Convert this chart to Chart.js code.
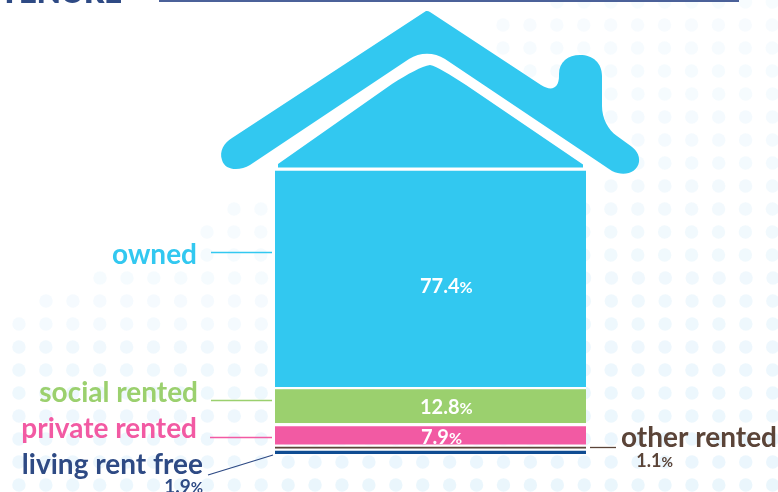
<!DOCTYPE html>
<html>
<head>
<meta charset="utf-8">
<title>Tenure</title>
<script src="https://cdn.jsdelivr.net/npm/chart.js@4"></script>
<style>
  html, body { margin: 0; padding: 0; background: #fff; overflow: hidden; }
  #wrap { position: relative; width: 778px; height: 492px; }
</style>
</head>
<body>
<div id="wrap"><canvas id="myChart" width="778" height="492"></canvas></div>
<script>
'use strict';

// bottom of the stack first
const categories = ['living rent free', 'other rented', 'private rented', 'social rented', 'owned'];
const values = [1.9, 1.1, 7.9, 12.8, 77.4];
const colors = ['#0f4c92', '#5b4438', '#f25aa3', '#9bd06e', '#32c8f0'];
const textColors = ['#2e4a84', '#5b4438', '#f25aa3', '#9bd06e', '#32c8f0'];

const FONT = 'Lato, sans-serif';

// where the names, leaders and numbers sit around the house
const nameSpots = [
  { x: 203, y: 474, line: [208, 475, 273, 455] },
  { x: 777, y: 447, line: [590, 447.5, 616, 447.5] },
  { x: 197, y: 438, line: [210, 437.5, 272, 437.5] },
  { x: 198, y: 402, line: [211, 400.5, 272, 400.5] },
  { x: 197, y: 264, line: [211, 252.5, 272, 252.5] }
];
const valueSpots = [
  { x: 203, y: 493, size: 19, align: 'right', inside: false },
  { x: 673, y: 467, size: 18, align: 'right', inside: false },
  { x: 421, y: 444, size: 20, align: 'left', inside: true },
  { x: 420, y: 414, size: 20, align: 'left', inside: true },
  { x: 420, y: 293, size: 20, align: 'left', inside: true }
];
// bar gaps, white edge of each segment [top, bottom]
const gaps = [[2, 0], [1.3, 0], [3, 1], [2.4, 0], [2.8, 0]];

// first dot of each row of the background pattern
const dotRows = [557, 503, 503, 530, 611, 611, 611, 611, 611, 234, 207, 207, 100, 46, 19, -8, -8, -8, -8, -8, -8, -8];

const backdrop = {
  id: 'backdrop',
  beforeDraw(chart) {
    const ctx = chart.ctx;
    ctx.save();
    ctx.fillStyle = '#e6f4fc';
    dotRows.forEach((start, i) => {
      const y = 2 + 23 * i;
      for (let x = start; x < 790; x += 26.92) {
        // pattern fades out to the upper left
        const fade = x < 275 ? (y < 340 ? 0.65 : 0.9) : 1;
        ctx.globalAlpha = (0.3 + 0.55 * y / 492) * fade;
        ctx.beginPath();
        ctx.arc(x, y, 6.7, 0, Math.PI * 2);
        ctx.fill();
      }
    });
    ctx.restore();

    // heading cut off by the top edge, and its rule
    ctx.save();
    ctx.fillStyle = '#2e4a84';
    ctx.font = '800 31px ' + FONT;
    ctx.textBaseline = 'alphabetic';
    ctx.fillText('TENURE', 0, 3);
    ctx.fillStyle = '#4b6199';
    ctx.fillRect(159, 0, 580, 2);
    ctx.restore();
  }
};

const roof = {
  id: 'roof',
  afterDatasetsDraw(chart) {
    const ctx = chart.ctx;
    ctx.save();
    ctx.fillStyle = colors[4];

    ctx.beginPath();
    ctx.moveTo(426, 11);
    ctx.quadraticCurveTo(428, 10.5, 430, 12);
    ctx.lineTo(541, 85);
    ctx.bezierCurveTo(552, 92, 559, 88, 559, 76);
    ctx.lineTo(559, 74);
    ctx.bezierCurveTo(559, 62, 568, 55, 580, 55);
    ctx.bezierCurveTo(593, 55, 602, 63, 602, 76);
    ctx.lineTo(602, 106);
    ctx.bezierCurveTo(602, 118, 608, 130, 617, 136);
    ctx.lineTo(628, 144);
    ctx.bezierCurveTo(636, 149, 640, 155, 639, 162);
    ctx.bezierCurveTo(637, 173, 624, 177, 612, 171);
    ctx.lineTo(445, 59);
    ctx.bezierCurveTo(434, 52, 420, 52, 409, 59);
    ctx.lineTo(250, 165);
    ctx.bezierCurveTo(240, 171, 225, 171, 222, 160);
    ctx.bezierCurveTo(219, 151, 224, 143, 232, 138);
    ctx.closePath();
    ctx.fill();

    ctx.beginPath();
    ctx.moveTo(278, 164);
    ctx.lineTo(278, 167.5);
    ctx.lineTo(583, 167.5);
    ctx.lineTo(583, 164.5);
    ctx.lineTo(466, 85);
    ctx.bezierCurveTo(450, 75, 437, 66, 430, 65);
    ctx.bezierCurveTo(422, 66, 408, 74, 392, 84);
    ctx.closePath();
    ctx.fill();
    ctx.restore();
  }
};

const labels = {
  id: 'labels',
  afterDraw(chart) {
    const ctx = chart.ctx;
    ctx.save();
    ctx.textBaseline = 'alphabetic';
    categories.forEach((name, i) => {
      const spot = nameSpots[i];
      const l = spot.line;
      ctx.strokeStyle = textColors[i];
      ctx.lineWidth = 1.3;
      ctx.beginPath();
      ctx.moveTo(l[0], l[1]);
      ctx.lineTo(l[2], l[3]);
      ctx.stroke();

      ctx.fillStyle = textColors[i];
      ctx.font = '700 28px ' + FONT;
      ctx.textAlign = 'right';
      ctx.fillText(name, spot.x, spot.y);

      // number and a smaller % sign
      const v = valueSpots[i];
      const num = values[i].toFixed(1);
      ctx.fillStyle = v.inside ? '#fff' : textColors[i];
      ctx.font = '700 ' + v.size + 'px ' + FONT;
      const w = ctx.measureText(num).width;
      ctx.font = '700 ' + (v.size - 4) + 'px ' + FONT;
      const pw = ctx.measureText('%').width;
      const left = v.align === 'right' ? v.x - w - pw : v.x;
      ctx.textAlign = 'left';
      ctx.fillText('%', left + w, v.y);
      ctx.font = '700 ' + v.size + 'px ' + FONT;
      ctx.fillText(num, left, v.y);
    });
    ctx.restore();
  }
};

const stackTotal = values.reduce((sum, v) => sum + v, 0);

const ctx = document.getElementById('myChart').getContext('2d');
const myChart = new Chart(ctx, {
  type: 'bar',
  data: {
    labels: ['Tenure'],
    datasets: categories.map((name, i) => ({
      label: name,
      data: [values[i]],
      backgroundColor: colors[i],
      borderColor: '#fff',
      borderWidth: { top: gaps[i][0], bottom: gaps[i][1], left: 0, right: 0 },
      borderSkipped: false,
      inflateAmount: 0,
      categoryPercentage: 1,
      barPercentage: 1
    }))
  },
  options: {
    responsive: false,
    animation: false,
    layout: { padding: { left: 275, right: 192, top: 168, bottom: 38 } },
    plugins: { legend: { display: false }, tooltip: { enabled: false }, title: { display: false } },
    scales: {
      x: { stacked: true, display: false },
      y: { stacked: true, display: false, min: 0, max: stackTotal }
    }
  },
  plugins: [backdrop, roof, labels]
});
</script>
</body>
</html>
